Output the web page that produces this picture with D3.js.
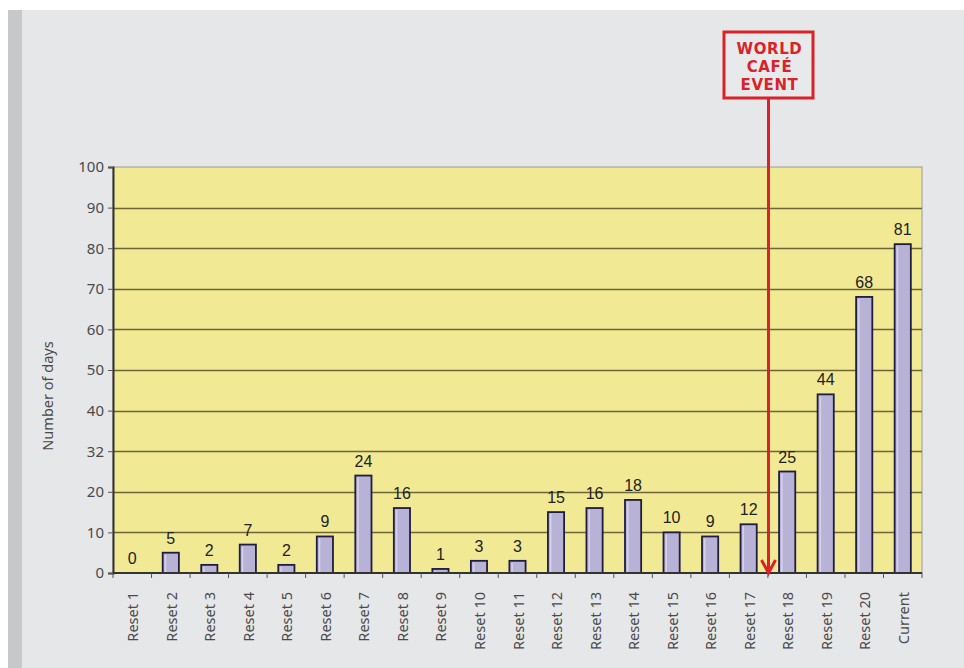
<!DOCTYPE html>
<html>
<head>
<meta charset="utf-8">
<script src="https://cdn.jsdelivr.net/npm/d3@7"></script>
<style>
  html, body { margin: 0; padding: 0; background: #fff; }
  svg { display: block; }
</style>
</head>
<body>
<svg id="chart" width="964" height="668"></svg>
<script>
// data
const categories = ["Reset 1","Reset 2","Reset 3","Reset 4","Reset 5","Reset 6","Reset 7","Reset 8","Reset 9","Reset 10",
  "Reset 11","Reset 12","Reset 13","Reset 14","Reset 15","Reset 16","Reset 17","Reset 18","Reset 19","Reset 20","Current"];
const days = [0,5,2,7,2,9,24,16,1,3,3,15,16,18,10,9,12,25,44,68,81];
const yTicks = [0,10,20,30,40,50,60,70,80,90,100];
const yTickLabels = ["0","10","20","32","40","50","60","70","80","90","100"]; // "32" is what the original prints
const eventLines = ["WORLD","CAFÉ","EVENT"];
const eventBefore = "Reset 18";

const svg = d3.select('#chart');
const W = +svg.attr('width'), H = +svg.attr('height');
const plot = {left: 113, right: 922, top: 167, bottom: 573};

// grey panel + darker strip on the left
svg.append('rect').attr('x', 8).attr('y', 10).attr('width', W - 8).attr('height', H - 10).attr('fill', '#e6e7e9');
svg.append('rect').attr('x', 8).attr('y', 10).attr('width', 14).attr('height', H - 10).attr('fill', '#c7c8ca');

const x = d3.scaleBand().domain(categories).range([plot.left, plot.right]).paddingInner(0.58).paddingOuter(0.29);
const y = d3.scaleLinear().domain([0, 100]).range([plot.bottom, plot.top]);

// plot background
svg.append('rect')
  .attr('x', plot.left).attr('y', plot.top)
  .attr('width', plot.right - plot.left).attr('height', plot.bottom - plot.top)
  .attr('fill', '#f1e994').attr('stroke', '#9a9a9a').attr('stroke-width', 1);

// gridlines
svg.append('g').selectAll('line').data(yTicks.filter(d => d > 0 && d < 100)).join('line')
  .attr('x1', plot.left).attr('x2', plot.right)
  .attr('y1', d => Math.round(y(d)) + 0.5).attr('y2', d => Math.round(y(d)) + 0.5)
  .attr('stroke', '#6e6636').attr('stroke-width', 1.3);

// y axis
const yAxis = svg.append('g').attr('transform', `translate(${plot.left},0)`)
  .call(d3.axisLeft(y).tickValues(yTicks).tickFormat((d, i) => yTickLabels[i]).tickSize(5).tickPadding(4));
yAxis.select('.domain').attr('stroke', '#333').attr('stroke-width', 2);
yAxis.selectAll('.tick line').attr('stroke', '#555');
yAxis.selectAll('text').attr('font-family', 'Noto Sans, sans-serif').attr('font-size', 15).attr('fill', '#4a4a4a');

// y title
svg.append('text')
  .attr('transform', `translate(53,396) rotate(-90)`)
  .attr('text-anchor', 'middle')
  .attr('font-family', 'Noto Sans, sans-serif').attr('font-size', 14.5).attr('fill', '#4a4a4a')
  .text('Number of days');

// bars
const bars = svg.append('g');
bars.selectAll('rect.bar').data(categories).join('rect')
  .attr('class', 'bar')
  .attr('x', d => x(d)).attr('width', x.bandwidth())
  .attr('y', (d, i) => y(days[i])).attr('height', (d, i) => y(0) - y(days[i]))
  .attr('fill', '#b8b2d6').attr('stroke', '#1f1d40').attr('stroke-width', 1.8);
bars.selectAll('rect.hl').data(categories).join('rect')
  .attr('class', 'hl')
  .attr('x', d => x(d) + 2).attr('width', 1.5)
  .attr('y', (d, i) => y(days[i]) + 2).attr('height', (d, i) => Math.max(0, y(0) - y(days[i]) - 3))
  .attr('fill', '#d6d2ea');

// value labels
svg.append('g').selectAll('text').data(categories).join('text')
  .attr('x', d => x(d) + x.bandwidth() / 2)
  .attr('y', (d, i) => y(days[i]) - 9)
  .attr('text-anchor', 'middle')
  .attr('font-family', 'Liberation Sans, Arial, sans-serif').attr('font-size', 16).attr('fill', '#222')
  .text((d, i) => days[i]);

// x axis with ticks on category boundaries
const xg = svg.append('g').attr('transform', `translate(0,${plot.bottom})`);
xg.append('line').attr('x1', plot.left).attr('x2', plot.right).attr('y1', 0).attr('y2', 0)
  .attr('stroke', '#333').attr('stroke-width', 2);
const bounds = categories.map(c => x(c) - x.step() * x.paddingInner() / 2).concat([plot.right]);
xg.selectAll('line.tk').data(bounds).join('line').attr('class', 'tk')
  .attr('x1', d => d).attr('x2', d => d).attr('y1', 0).attr('y2', 5)
  .attr('stroke', '#555');
xg.selectAll('text').data(categories).join('text')
  .attr('transform', d => `translate(${x(d) + x.bandwidth() / 2 + 6},19) rotate(-90)`)
  .attr('text-anchor', 'end')
  .attr('font-family', 'Noto Sans, sans-serif').attr('font-size', 14.5).attr('fill', '#4a4a4a')
  .text(d => d);

// World Café event marker
const ex = Math.round(x(eventBefore) - x.step() * x.paddingInner() / 2) + 0.5;
const red = '#d8232a';
const box = {w: 89, h: 66, top: 32};
svg.append('rect')
  .attr('x', ex - box.w / 2).attr('y', box.top).attr('width', box.w).attr('height', box.h)
  .attr('fill', '#e8e9eb').attr('stroke', red).attr('stroke-width', 3);
svg.append('g').selectAll('text').data(eventLines).join('text')
  .attr('x', ex + 1).attr('y', (d, i) => box.top + 22 + i * 17.8)
  .attr('text-anchor', 'middle')
  .attr('font-family', 'DejaVu Sans, sans-serif').attr('font-weight', 'bold').attr('font-size', 15)
  .attr('letter-spacing', 0.6)
  .attr('fill', red)
  .text(d => d);
svg.append('line')
  .attr('x1', ex).attr('x2', ex).attr('y1', box.top + box.h).attr('y2', plot.bottom - 2)
  .attr('stroke', red).attr('stroke-width', 3);
svg.append('path')
  .attr('d', `M${ex - 7},${plot.bottom - 13} L${ex},${plot.bottom} L${ex + 7},${plot.bottom - 13}`)
  .attr('fill', 'none').attr('stroke', red).attr('stroke-width', 3);
</script>
</body>
</html>
